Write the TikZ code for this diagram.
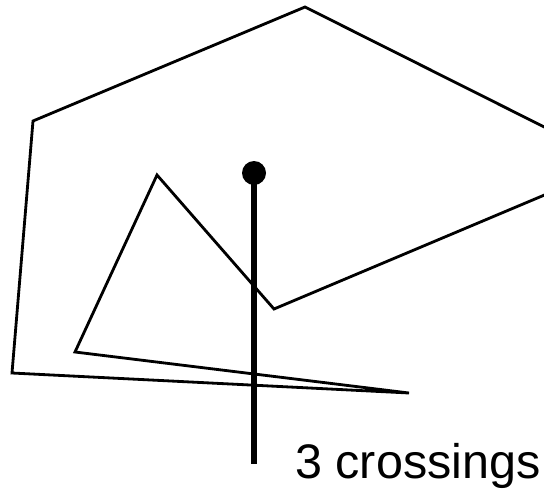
\documentclass[tikz,border=0pt]{standalone}
\usepackage{fontspec}
\setmainfont{Liberation Sans}
\usetikzlibrary{positioning}
\tikzset{
  poly/.style={black,line width=2pt,line join=miter},
  ray/.style={black,line width=3.8pt},
  tip/.style={circle,fill=black,minimum size=6mm,inner sep=0pt},
}
\begin{document}
\begin{tikzpicture}[x=0.25mm,y=-0.25mm]
  \useasboundingbox (0,0) rectangle (544,494);
  \clip (0,0) rectangle (544,494);
  \draw[poly] (305,7) -- (618,164) -- (274,309) -- (157,175) -- (75,352)
    -- (409,393) -- (12,373) -- (33,121) -- cycle;
  \coordinate (start) at (254,173);
  \coordinate (end) at (254,464);
  \draw[ray] (start) -- (end);
  \node[tip] (dot) at (start) {};
  \node[anchor=base west,inner sep=0pt,font=\fontsize{34.5}{40}\selectfont] (label) at (295,478) {3 crossings};
\end{tikzpicture}
\end{document}
